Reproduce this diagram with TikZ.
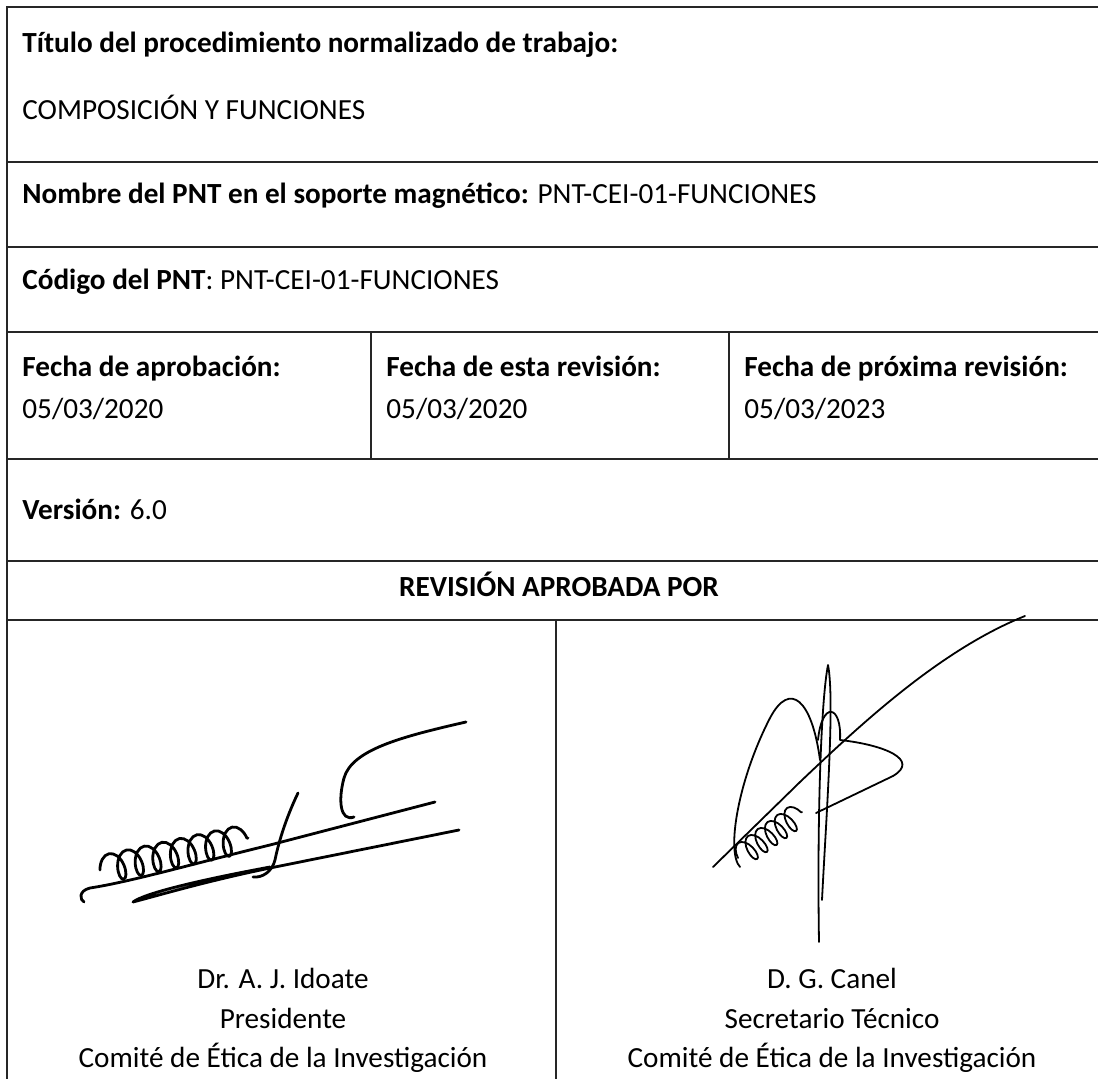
\documentclass[tikz,border=0pt]{standalone}
\usepackage{fontspec}
\setmainfont{Carlito}
\usetikzlibrary{decorations.pathmorphing}

\begin{document}
\begin{tikzpicture}[x=0.5pt, y=-0.5pt,
    rule/.style={line width=1pt, black!85},
    txt/.style={anchor=base west, inner sep=0pt, font=\fontsize{14.6}{17}\selectfont},
    ctxt/.style={anchor=base, inner sep=0pt, font=\fontsize{14.6}{17}\selectfont},
    ink/.style={line width=1.4pt, line cap=round, line join=round},
    thinink/.style={line width=0.9pt, line cap=round, line join=round}]
        \useasboundingbox (0,0) rectangle (1098,1079);

        % table rules
        \draw[rule] (6.5,1079) -- (6.5,7.5) -- (1098,7.5);
        \foreach \y in {162,247.5,332.5,459,561,620}
            \draw[rule] (6.5,\y) -- (1098,\y);
        \draw[rule] (371,332.5) -- (371,459);
        \draw[rule] (729,332.5) -- (729,459);
        \draw[rule] (555.5,620) -- (555.5,1079);

        % cells
        \node[txt] (titulo) at (22,53) {\textbf{Título del procedimiento normalizado de trabajo:}};
        \node[txt] (comp) at (22,120) {COMPOSICIÓN Y FUNCIONES};
        \node[txt] (nombre) at (22,204) {\textbf{Nombre del PNT en el soporte magnético:} PNT-CEI-01-FUNCIONES};
        \node[txt] (codigo) at (22,290) {\textbf{Código del PNT}: PNT-CEI-01-FUNCIONES};
        \node[txt] (aprob) at (22,377) {\textbf{Fecha de aprobación:}};
        \node[txt] (aprobd) at (22,419) {05/03/2020};
        \node[txt] (rev) at (386,377) {\textbf{Fecha de esta revisión:}};
        \node[txt] (revd) at (386,419) {05/03/2020};
        \node[txt] (prox) at (744,377) {\textbf{Fecha de próxima revisión:}};
        \node[txt] (proxd) at (744,419) {05/03/2023};
        \node[txt] (version) at (22,520) {\textbf{Versión:} 6.0};
        \node[ctxt] (aprobpor) at (559,597) {\textbf{REVISIÓN APROBADA POR}};

        % signatures
        \node[ctxt] (pres) at (283,988) {Dr. A. J. Idoate};
        \node[ctxt] (presc) at (283,1028) {Presidente};
        \node[ctxt] (presb) at (283,1067) {Comité de Ética de la Investigación};
        \node[ctxt] (secr) at (832,988) {D. G. Canel};
        \node[ctxt] (secrc) at (832,1028) {Secretario Técnico};
        \node[ctxt] (secrb) at (832,1067) {Comité de Ética de la Investigación};

        \draw[ink] (466,722) .. controls (400,737) and (352,750) .. (344,778)
            .. controls (338,800) and (340,822) .. (354,817);
        \draw[ink] (435,802) -- (270,845) .. controls (200,862) and (130,882) .. (90,888)
            .. controls (78,891) and (80,900) .. (84,902);
        \draw[ink] (459,830) -- (280,866) .. controls (210,880) and (160,895) .. (133,902)
            .. controls (145,893) and (200,880) .. (270,867);
        \draw[ink] (298,793) .. controls (285,820) and (278,845) .. (275,860)
            .. controls (272,872) and (262,878) .. (253,877);
        \draw[ink, decorate, decoration={coil, aspect=0.55, segment length=9pt, amplitude=7pt}]
            (100,870) -- (248,838);

        \draw[thinink] (713,867) -- (800,782) .. controls (860,725) and (940,650) .. (1025,616);
        \draw[thinink] (819,942) .. controls (817,820) and (821,700) .. (828,665)
            .. controls (835,700) and (826,820) .. (822,900);
        \draw[thinink] (820,760) .. controls (812,700) and (790,680) .. (770,718)
            .. controls (738,780) and (726,852) .. (740,867);
        \draw[thinink] (818,740) .. controls (822,700) and (842,705) .. (840,740)
            .. controls (885,745) and (920,760) .. (893,776) -- (816,813);
        \draw[thinink, decorate, decoration={coil, aspect=0.5, segment length=6pt, amplitude=6pt}]
            (738,858) -- (802,812);

\end{tikzpicture}
\end{document}
